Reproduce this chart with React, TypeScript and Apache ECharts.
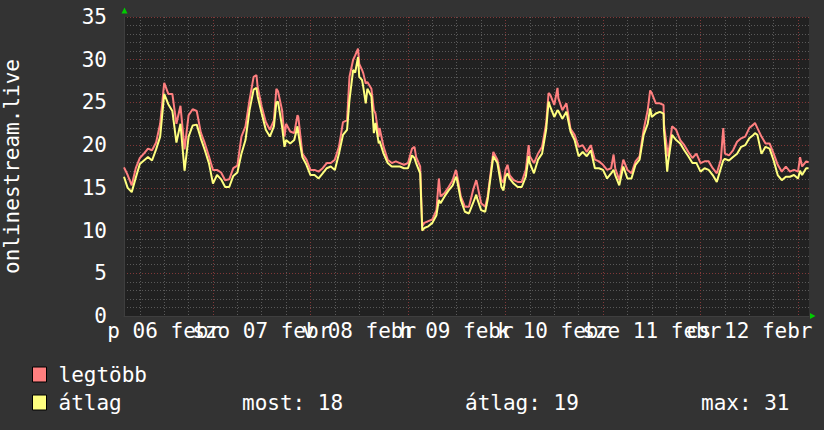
import React, { useEffect, useRef } from "react";
import * as echarts from "echarts";

// time in hours since 6 Feb 00:00
const hours = [
  2.1, 3, 4, 5, 6, 7, 8, 9, 10, 11, 12, 13, 14, 15, 16, 17, 18, 19, 20, 21, 22, 23, 24, 25, 26, 27, 28, 29, 30,
  31, 32, 33, 34, 34.7, 35, 36, 37, 38, 39, 39.6, 40, 41, 41.6, 42, 43, 44, 44.8, 45, 46, 47, 48, 49, 50, 51, 52,
  53, 54, 55, 56, 57, 57.6, 58.5, 59, 59.7, 60, 60.7, 61, 61.6, 62, 63, 63.6, 64, 64.8, 65, 66, 67, 68, 69, 70, 71,
  72, 73, 73.6, 74, 75, 75.5, 76, 77, 78, 79, 79.6, 80, 81, 82, 83, 83.8, 84, 85, 86, 87, 88, 88.8, 89, 90, 91,
  91.6, 92, 93, 94, 95, 95.5, 96, 96.5, 97, 98, 99, 100, 101, 101.7, 102, 103, 104, 105, 106, 106.6, 107, 108,
  108.8, 109, 110, 111, 112, 113, 114, 115, 116, 117, 118, 119, 120, 121, 122, 122.6, 123, 124, 125, 126, 127, 128,
  129, 130, 131, 131.6, 132, 133, 134, 134.9, 135, 135.8, 136, 137, 138, 139, 140, 141, 142, 143, 144, 145, 146,
  147, 148, 149, 149.6, 150, 151, 152, 153, 154, 155, 156, 157, 157.4, 158, 159, 160, 161, 162, 163, 164, 165,
  166, 167, 168, 168.5, 169, 170, 170.6,
];

const maxValues = [
  17.4, 16.5, 15.3, 17.3, 18.5, 19.0, 19.6, 19.4, 20.3, 22.5, 27.3, 26.0, 26.0, 22.5, 24.6, 19.5, 23.5, 24.2, 24.0,
  21.5, 20.2, 18.7, 17.1, 17.1, 16.8, 15.9, 16.0, 17.3, 17.6,
  21.0, 22.2, 25.3, 28.0, 28.2, 26.8, 24.5, 22.7, 21.8, 22.9, 26.6, 26.3, 24.1, 21.0, 22.5, 21.6, 21.4, 23.5, 23.3,
  19.0, 18.3, 17.1, 17.1, 16.9, 17.3, 17.9,
  17.9, 18.3, 19.8, 22.7, 22.9, 28.0, 30.0, 30.5, 31.3, 29.5, 28.8, 28.4, 27.2, 27.4, 26.6, 24.1, 23.7, 21.0, 22.0,
  19.8, 18.3, 17.9, 18.1, 17.9, 17.7,
  17.9, 19.6, 19.8, 18.6, 17.5, 10.5, 10.9, 11.1, 11.3, 12.4, 16.1, 14.0, 14.4, 15.1, 15.9, 17.1, 16.7, 14.0, 12.8,
  12.8, 14.7, 15.9, 15.5, 13.2, 12.8,
  14.0, 15.5, 19.2, 18.3, 15.9, 15.6, 17.1, 17.7, 16.5, 15.9, 15.7, 15.7, 17.1, 20.0, 18.7, 17.9, 19.0, 19.8, 22.5,
  26.1, 25.9, 24.7,
  26.7, 25.5, 24.1, 24.9, 21.9, 21.2, 19.8, 20.0, 19.2, 20.0, 18.3, 18.1, 17.7, 17.1, 17.3, 18.9, 17.3, 15.9, 18.3,
  17.1, 16.7, 18.1,
  18.7, 21.8, 24.1, 26.4, 26.1, 24.9, 24.9, 24.7, 22.5, 19.4, 18.7, 22.2, 21.8, 20.6, 20.0, 19.2, 18.5, 19.0, 17.9,
  18.1, 18.1,
  17.3, 16.7, 18.3, 22.0, 19.0, 18.8, 19.4, 20.4, 20.8, 21.0, 22.0, 22.4, 22.6, 22.0, 21.0, 20.2, 20.2, 19.0, 17.7,
  16.9, 17.5,
  16.9, 17.1, 16.9, 18.6, 17.5, 18.1, 18.0,
];

const avgValues = [
  16.3, 15.0, 14.5, 16.2, 17.8, 18.2, 18.6, 18.2, 19.5, 21.0, 26.0, 24.8, 24.0, 20.3, 22.5, 17.0, 21.0, 22.3, 22.4,
  20.8, 19.4, 17.9, 15.5, 16.5, 16.0, 15.1, 15.1, 16.4, 16.8,
  19.0, 20.6, 24.1, 26.5, 26.7, 25.7, 23.7, 21.8, 21.0, 22.2, 25.0, 25.1, 22.2, 19.8, 20.6, 20.2, 20.6, 22.2, 21.4,
  18.6, 17.7, 16.5, 16.5, 16.1, 16.7, 17.3,
  17.5, 17.1, 19.0, 21.2, 21.8, 25.3, 28.8, 28.5, 30.3, 28.0, 27.6, 26.8, 24.9, 26.6, 25.7, 21.4, 22.6, 20.2, 20.5,
  19.0, 17.9, 17.5, 17.5, 17.5, 17.3,
  17.3, 18.8, 18.5, 17.9, 16.7, 10.0, 10.3, 10.5, 10.9, 11.8, 13.6, 13.2, 14.0, 14.7, 15.3, 16.3, 16.1, 13.6, 12.2,
  12.0, 13.2, 14.2, 13.8, 12.4, 12.2,
  13.6, 15.1, 18.7, 17.9, 15.1, 14.7, 16.3, 16.7, 16.1, 15.5, 15.1, 15.1, 16.3, 18.7, 17.9, 16.7, 18.3, 19.0, 21.8,
  25.1, 24.5, 23.3,
  24.1, 24.0, 23.1, 23.9, 21.6, 20.6, 18.7, 19.2, 18.7, 19.4, 17.3, 17.3, 17.1, 16.1, 16.7, 17.1, 16.5, 15.3, 17.5,
  16.1, 16.1, 17.7,
  18.3, 21.2, 22.5, 24.3, 23.3, 23.7, 23.9, 23.7, 21.8, 16.9, 17.9, 21.2, 20.6, 20.2, 19.4, 18.7, 17.9, 17.9, 16.9,
  17.3, 17.1,
  16.5, 15.7, 17.3, 18.2, 18.4, 18.2, 18.6, 19.0, 19.8, 20.0, 20.8, 21.2, 21.4, 21.2, 19.0, 19.8, 19.6, 18.2, 16.5,
  15.9, 16.3,
  16.3, 16.5, 16.1, 17.0, 16.5, 17.3, 17.3,
];

const dayLabels = ["p 06 febr", "szo 07 febr", "v 08 febr", "h 09 febr", "k 10 febr", "sze 11 febr", "cs 12 febr"];
const seriesNames = ["legtöbb", "átlag"];
const statLabels = ["most: 18", "átlag: 19", "max: 31"];
const yAxisName = "onlinestream.live";
const yTicks = [0, 5, 10, 15, 20, 25, 30, 35];

const X_MIN = 2.1;
const X_MAX = 170.7;

export default function App() {
  const ref = useRef<HTMLDivElement>(null);

  useEffect(() => {
    const chart = echarts.init(ref.current as HTMLDivElement, null, { renderer: "svg" });
    const font = "DejaVu Sans Mono";
    const minorColor = "#595959";
    const majorColor = "#803838";
    const dash = [1, 2];

    const maxData = hours.map((h, i) => [h, maxValues[i]]);
    const avgData = hours.map((h, i) => [h, avgValues[i]]);

    const hidden = {
      axisLine: { show: false },
      axisTick: { show: false },
      axisLabel: { show: false },
    };

    chart.setOption({
      animation: false,
      backgroundColor: "#333333",
      grid: {
        left: 124,
        top: 17,
        width: 685,
        height: 299,
        show: true,
        backgroundColor: "#212121",
        borderWidth: 0,
        containLabel: false,
        outerBoundsMode: "none",
      },
      legend: {
        orient: "vertical",
        left: 32,
        top: 364,
        padding: 0,
        itemWidth: 14,
        itemHeight: 15,
        itemGap: 7,
        icon: "rect",
        selectedMode: false,
        itemStyle: { borderColor: "#000000", borderWidth: 1 },
        textStyle: { color: "#ffffff", fontFamily: font, fontSize: 21, lineHeight: 21, padding: [0, 0, 0, 7] },
        data: seriesNames,
      },
      xAxis: [
        {
          type: "value",
          position: "bottom",
          offset: 0,
          min: X_MIN,
          max: X_MAX,
          minInterval: 6,
          maxInterval: 6,
          splitNumber: 28,
          ...hidden,
          splitLine: { show: true, showMinLine: false, showMaxLine: false, lineStyle: { color: minorColor, type: dash, width: 1 } },
        },
        {
          type: "value",
          position: "bottom",
          offset: 0,
          min: X_MIN - 12,
          max: X_MAX - 12,
          minInterval: 24,
          maxInterval: 24,
          splitNumber: 7,
          axisLine: { show: false },
          axisTick: { show: false },
          splitLine: { show: false },
          axisLabel: {
            show: true,
            showMinLabel: false,
            showMaxLabel: false,
            margin: 4,
            color: "#ffffff",
            fontFamily: font,
            fontSize: 21,
            formatter: (v: number) => {
              const i = Math.round(v / 24);
              if (Math.abs(v - i * 24) < 0.01 && i >= 0 && i < dayLabels.length) return dayLabels[i];
              return "";
            },
          },
        },
        {
          type: "value",
          position: "bottom",
          offset: 0,
          min: X_MIN,
          max: X_MAX,
          minInterval: 24,
          maxInterval: 24,
          splitNumber: 7,
          z: 1,
          axisLine: { show: true, lineStyle: { color: "#3e3e3e", width: 1 } },
          axisTick: { show: false },
          axisLabel: { show: false },
          splitLine: { show: true, showMinLine: false, showMaxLine: false, lineStyle: { color: majorColor, type: dash, width: 1 } },
        },
      ],
      yAxis: [
        {
          type: "value",
          position: "left",
          offset: 0,
          min: 0,
          max: 35,
          interval: 1,
          ...hidden,
          splitLine: { show: true, lineStyle: { color: minorColor, type: dash, width: 1 } },
        },
        {
          type: "value",
          position: "left",
          offset: 0,
          min: 0,
          max: 35,
          interval: 5,
          z: 1,
          name: yAxisName,
          nameLocation: "middle",
          nameGap: 102,
          nameRotate: 90,
          nameTextStyle: { color: "#ffffff", fontFamily: font, fontSize: 21 },
          axisLine: { show: true, lineStyle: { color: "#3e3e3e", width: 1 } },
          axisTick: { show: false },
          axisLabel: {
            show: true,
            margin: 17,
            color: "#ffffff",
            fontFamily: font,
            fontSize: 21,
            formatter: (v: number) => (yTicks.indexOf(v) >= 0 ? String(v) : ""),
          },
          splitLine: { show: true, lineStyle: { color: majorColor, type: dash, width: 1 } },
        },
      ],
      series: [
        {
          name: seriesNames[0],
          type: "line",
          xAxisIndex: 2,
          yAxisIndex: 1,
          data: maxData,
          showSymbol: false,
          symbol: "none",
          z: 3,
          itemStyle: { color: "#ff7f7f" },
          lineStyle: { color: "#ff7f7f", width: 2 },
        },
        {
          name: seriesNames[1],
          type: "line",
          xAxisIndex: 2,
          yAxisIndex: 1,
          data: avgData,
          showSymbol: false,
          symbol: "none",
          z: 4,
          itemStyle: { color: "#ffff7f" },
          lineStyle: { color: "#ffff7f", width: 2 },
        },
      ],
      graphic: [
        {
          type: "polygon",
          silent: true,
          shape: { points: [[121.5, 13.5], [127.5, 13.5], [124.5, 7.5]] },
          style: { fill: "#00cc00" },
        },
        {
          type: "polygon",
          silent: true,
          shape: { points: [[810, 313], [810, 319], [815.5, 316]] },
          style: { fill: "#00cc00" },
        },
        {
          type: "text",
          left: 242,
          top: 392,
          style: { text: statLabels[0], fill: "#ffffff", font: `21px "${font}"` },
        },
        {
          type: "text",
          left: 465,
          top: 392,
          style: { text: statLabels[1], fill: "#ffffff", font: `21px "${font}"` },
        },
        {
          type: "text",
          left: 701,
          top: 392,
          style: { text: statLabels[2], fill: "#ffffff", font: `21px "${font}"` },
        },
      ],
    });

    return () => {
      chart.dispose();
    };
  }, []);

  return <div ref={ref} style={{ position: "fixed", left: 0, top: 0, width: 824, height: 430 }} />;
}
